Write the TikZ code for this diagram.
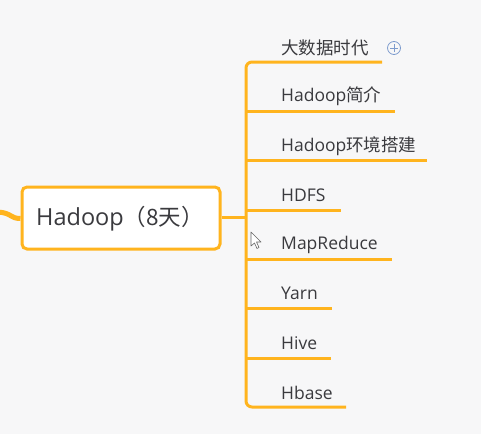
\documentclass[tikz,border=0pt]{standalone}
\usepackage{fontspec}
\setmainfont{Open Sans}
\newfontfamily\cjk{Noto Sans CJK SC}
\definecolor{bg}{RGB}{247,247,248}
\definecolor{org}{RGB}{255,180,30}
\definecolor{txt}{RGB}{58,58,62}
\definecolor{plusc}{RGB}{125,155,205}
\tikzset{
  conn/.style={draw=org, line width=3pt},
  child/.style={anchor=west, inner sep=0pt, text=txt, font=\fontsize{17.5}{20}\selectfont},
  mainbox/.style={draw=org, fill=white, line width=3pt, rounded corners=5pt, minimum width=198pt, minimum height=62pt, inner sep=0pt},
}
\begin{document}
\begin{tikzpicture}[x=1pt, y=-1pt]
\fill[bg] (0,0) rectangle (481,434);
\useasboundingbox (0,0) rectangle (481,434);
% left incoming connector
\coordinate (lin) at (-2,212);
\node[mainbox] (main) at (121,218) {};
\draw[org, line width=5pt] (lin) .. controls (12,213) and (10,218.5) .. (main.west |- 0,218.5);
\node[anchor=west, inner sep=0pt, text=txt, font=\fontsize{23.5}{26}\selectfont] (mt) at (36,219) {Hadoop{\cjk\fontsize{22.5}{26}\selectfont （8天）}};
% bus
\coordinate (bus) at (246,217);
\draw[conn] (main.east |- bus) -- (bus);
% child underline ends
\coordinate (e1) at (382,62);
\coordinate (e2) at (395,111);
\coordinate (e3) at (427,160.5);
\coordinate (e4) at (341,210);
\coordinate (e5) at (392,259);
\coordinate (e6) at (332,308);
\coordinate (e7) at (331,358);
\coordinate (e8) at (346,407);
\draw[conn, rounded corners=6pt] (e1) -- (246,62) -- (246,407) -- (e8);
\foreach \i in {2,...,7} {\draw[conn] (246,0 |- e\i) -- (e\i);}
% labels
\node[child] (c1) at (281,47.5) {\cjk 大数据时代};
\node[child] (c2) at (281,96.5) {Hadoop{\cjk 简介}};
\node[child] (c3) at (281,146) {Hadoop{\cjk 环境搭建}};
\node[child] (c4) at (281,195.5) {HDFS};
\node[child] (c5) at (281,244.5) {MapReduce};
\node[child] (c6) at (281,293.5) {Yarn};
\node[child] (c7) at (281,343.5) {Hive};
\node[child] (c8) at (281,392.5) {Hbase};
% plus icon
\node[draw=plusc, circle, line width=0.8pt, minimum size=13pt, inner sep=0pt] (plus) at (394,48) {};
\draw[plusc, line width=0.8pt] ([xshift=-4pt]plus.center) -- ([xshift=4pt]plus.center)
  ([yshift=-4pt]plus.center) -- ([yshift=4pt]plus.center);
% mouse cursor
\draw[gray!80!black, fill=white, line width=0.6pt, line join=round]
  (251,232) -- (251,246) -- (254.5,243) -- (257,248.5) -- (259,247.5) -- (256.5,242) -- (261,242) -- cycle;
\end{tikzpicture}
\end{document}
